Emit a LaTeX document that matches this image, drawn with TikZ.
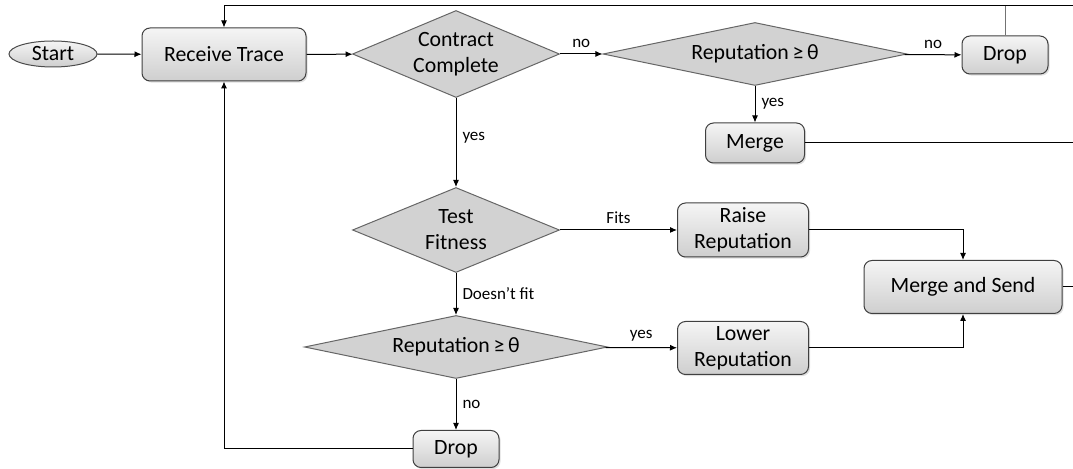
\documentclass[tikz,border=0pt]{standalone}
\usepackage{fontspec}
\setmainfont{Carlito}
\usepackage{tikz}
\usetikzlibrary{shapes.geometric,arrows.meta,positioning,shadows}

\begin{document}
\begin{tikzpicture}[
    x=0.5pt, y=-0.5pt,
    font=\fontsize{10.9}{13}\selectfont,
    box/.style={rectangle, rounded corners=4pt, draw=black!75, line width=0.5pt, align=center, inner sep=0pt,
        top color=gray!8, bottom color=gray!38, drop shadow={opacity=0.25, shadow xshift=0.8pt, shadow yshift=-0.8pt}},
    decision/.style={diamond, draw=black!60, line width=0.5pt, fill=gray!35, align=center, inner sep=0pt, aspect=2.4},
    wide decision/.style={decision, aspect=4.8},
    terminal/.style={ellipse, draw=black!70, line width=0.5pt, top color=gray!8, bottom color=gray!38, inner sep=0pt,
        minimum width=44pt, minimum height=13pt},
    lbl/.style={font=\fontsize{8.5}{10}\selectfont, inner sep=3pt},
    arrow/.style={-{Latex[length=3.5pt,width=3pt]}, line width=0.5pt}
]
    \useasboundingbox (0,0) rectangle (1073,469);

    % main column
    \node[terminal] (start) at (53,54) {Start};
    \node[box, minimum width=82pt, minimum height=26.5pt] (recv) at (224,54.5) {Receive Trace};
    \node[decision, minimum width=103.5pt, minimum height=43.5pt] (contract) at (456,54) {Contract\\Complete};
    \node[decision, minimum width=103.5pt, minimum height=42.5pt] (test) at (456,230) {Test\\Fitness};
    \node[wide decision, minimum width=151.5pt, minimum height=31.5pt] (rep2) at (456,347) {Reputation\,≥\,θ};
    \node[box, minimum width=43pt, minimum height=18.5pt] (drop2) at (456,449) {Drop};

    % upper branch
    \node[wide decision, minimum width=152pt, minimum height=31.5pt] (rep1) at (755,54) {Reputation\,≥\,θ};
    \node[box, minimum width=43pt, minimum height=19pt] (drop1) at (1005,55) {Drop};
    \node[box, minimum width=49.5pt, minimum height=20pt] (merge) at (755,143) {Merge};

    % reputation update
    \node[box, minimum width=65.5pt, minimum height=27pt] (raise) at (743,230) {Raise\\Reputation};
    \node[box, minimum width=65.5pt, minimum height=26.5pt] (lower) at (743,348) {Lower\\Reputation};
    \node[box, minimum width=99pt, minimum height=26.5pt] (mas) at (963,287) {Merge and Send};

    % exits on the right edge
    \coordinate (exitT) at (1073,6);
    \coordinate (exitM) at (1073,143);
    \coordinate (exitS) at (1073,287);

    \draw[arrow] (start) -- (recv);
    \draw[arrow] (recv) -- (contract);
    \draw[arrow] (contract) -- node[lbl, above] {no} (rep1);
    \draw[arrow] (rep1) -- node[lbl, above] {no} (drop1);
    \draw[arrow] (rep1) -- node[lbl, right] {yes} (merge);
    \draw[arrow] (contract) -- node[lbl, right, pos=0.45] {yes} (test);
    \draw[arrow] (test) -- node[lbl, above] {Fits} (raise);
    \draw[arrow] (test) -- node[lbl, right] {Doesn’t fit} (rep2);
    \draw[arrow] (rep2) -- node[lbl, above] {yes} (lower);
    \draw[arrow] (rep2) -- node[lbl, right] {no} (drop2);
    \draw[arrow] (raise) -| (mas);
    \draw[arrow] (lower) -| (mas);
    \draw[arrow] (drop2) -| (recv);
    \draw[arrow] (exitT) -| (recv);
    \draw[black!55, line width=0.5pt] (drop1) -- (drop1 |- exitT);
    \draw[line width=0.5pt] (merge) -- (exitM);
    \draw[line width=0.5pt] (mas) -- (exitS);
\end{tikzpicture}
\end{document}
